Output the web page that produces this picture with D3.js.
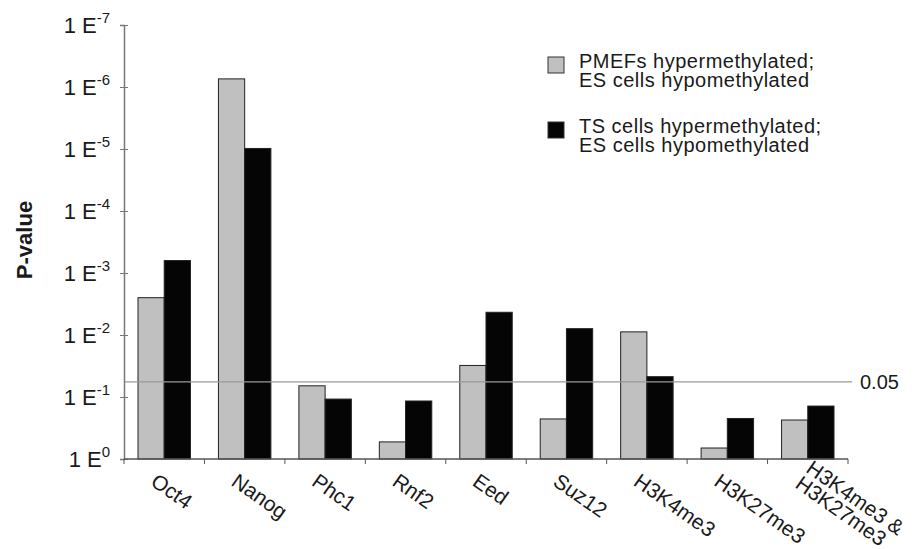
<!DOCTYPE html>
<html>
<head>
<meta charset="utf-8">
<script src="https://cdn.jsdelivr.net/npm/d3@7"></script>
<style>
  body { margin: 0; background: #fff; }
  text { font-family: "Liberation Sans", Arial, sans-serif; fill: #1a1a1a; }
</style>
</head>
<body>
<div id="chart"></div>
<script>
// categories along the x axis ('|' splits a label onto two lines)
var categories = ['Oct4', 'Nanog', 'Phc1', 'Rnf2', 'Eed', 'Suz12', 'H3K4me3', 'H3K27me3', 'H3K4me3 &|H3K27me3'];

// p-values
var pmefValues = [2.5e-3, 7.4e-7, 0.066, 0.53, 0.031, 0.226, 0.0089, 0.665, 0.235];
var tsValues = [6.3e-4, 9.8e-6, 0.108, 0.116, 0.0043, 0.0079, 0.047, 0.222, 0.14];

var seriesNames = ['PMEFs hypermethylated;|ES cells hypomethylated', 'TS cells hypermethylated;|ES cells hypomethylated'];
var seriesColors = ['#c0c0c0', '#050505'];

var yTickValues = [1, 1e-1, 1e-2, 1e-3, 1e-4, 1e-5, 1e-6, 1e-7];
var yTickExponents = ['0', '-1', '-2', '-3', '-4', '-5', '-6', '-7'];

// threshold line (drawn where it sits in the picture), and its label
var thresholdP = 0.057;
var thresholdLabel = '0.05';

var width = 913;
var height = 549;
var plotLeft = 124, plotRight = 848, plotTop = 25, plotBottom = 459;

var svg = d3.select('#chart')
  .append('svg')
  .attr('width', width)
  .attr('height', height);

var x0 = d3.scaleBand()
  .domain(categories)
  .range([plotLeft, plotRight])
  .padding(0);

var bw = x0.bandwidth();
var x1 = d3.scaleBand()
  .domain([0, 1])
  .range([bw * 0.174, bw * 0.826])
  .padding(0);

var y = d3.scaleLog()
  .domain([1, 1e-7])
  .range([plotBottom, plotTop]);

// bars
var rows = categories.map(function (c, i) {
  return { cat: c, vals: [pmefValues[i], tsValues[i]] };
});

var groups = svg.selectAll('g.grp')
  .data(rows)
  .enter()
  .append('g')
  .attr('class', 'grp')
  .attr('transform', function (d) { return 'translate(' + x0(d.cat) + ',0)'; });

groups.selectAll('rect')
  .data(function (d) { return d.vals.map(function (v, k) { return { k: k, v: v }; }); })
  .enter()
  .append('rect')
  .attr('x', function (d) { return x1(d.k); })
  .attr('y', function (d) { return y(d.v); })
  .attr('width', x1.bandwidth())
  .attr('height', function (d) { return y(1) - y(d.v); })
  .attr('fill', function (d) { return seriesColors[d.k]; })
  .attr('stroke', '#222')
  .attr('stroke-width', 1);

// threshold line
svg.append('line')
  .attr('x1', plotLeft)
  .attr('x2', 852)
  .attr('y1', y(thresholdP))
  .attr('y2', y(thresholdP))
  .attr('stroke', '#9a9a9a')
  .attr('stroke-width', 1.2);

svg.append('text')
  .attr('x', 860)
  .attr('y', y(thresholdP) + 7)
  .style('font-size', '20px')
  .text(thresholdLabel);

// y axis
var yAxis = svg.append('g')
  .attr('transform', 'translate(' + plotLeft + ',0)')
  .call(d3.axisLeft(y).tickValues(yTickValues).tickSize(4).tickFormat(''));

yAxis.select('.domain').attr('stroke', '#777').attr('stroke-width', 1.5);
yAxis.selectAll('.tick line').attr('stroke', '#777').attr('x2', 4).attr('x1', -4);

yAxis.selectAll('.tick')
  .append('text')
  .attr('x', -14)
  .attr('y', 7.5)
  .attr('text-anchor', 'end')
  .attr('fill', '#1a1a1a')
  .style('font-size', '22px')
  .each(function (d) {
    var t = d3.select(this);
    t.append('tspan').text('1 E');
    t.append('tspan')
      .attr('dy', -10)
      .style('font-size', '15px')
      .text(yTickExponents[yTickValues.indexOf(d)]);
  });

// x axis
var xAxis = svg.append('g')
  .attr('transform', 'translate(0,' + plotBottom + ')');

xAxis.append('line')
  .attr('x1', plotLeft)
  .attr('x2', plotRight)
  .attr('stroke', '#555')
  .attr('stroke-width', 1.5);

xAxis.selectAll('line.tk')
  .data(categories.map(function (c) { return x0(c); }).concat([plotRight]))
  .enter()
  .append('line')
  .attr('class', 'tk')
  .attr('x1', function (d) { return d; })
  .attr('x2', function (d) { return d; })
  .attr('y1', 0)
  .attr('y2', 5)
  .attr('stroke', '#555');

var labels = svg.selectAll('g.xlab')
  .data(categories)
  .enter()
  .append('g')
  .attr('class', 'xlab')
  .attr('transform', function (d) {
    return 'translate(' + (x0(d) + bw / 2 - 6) + ',472) rotate(35)';
  });

labels.each(function (d) {
  var lines = d.split('|');
  var n = lines.length;
  var g = d3.select(this);
  lines.forEach(function (ln, i) {
    g.append('text')
      .attr('x', n > 1 ? 2 : 0)
      .attr('y', (i - (n - 1) / 2) * 19 - (n > 1 ? 8 : 0))
      .attr('dy', '0.72em')
      .style('font-size', '21px')
      .text(ln);
  });
});

// y title
svg.append('text')
  .attr('transform', 'translate(32,240) rotate(-90)')
  .attr('text-anchor', 'middle')
  .style('font-size', '22px')
  .style('font-weight', 'bold')
  .text('P-value');

// legend
var legendTop = [57, 122];
var legend = svg.selectAll('g.leg')
  .data(seriesNames)
  .enter()
  .append('g')
  .attr('class', 'leg')
  .attr('transform', function (d, i) { return 'translate(548,' + legendTop[i] + ')'; });

legend.append('rect')
  .attr('width', 16)
  .attr('height', 16)
  .attr('fill', function (d, i) { return seriesColors[i]; })
  .attr('stroke', '#333');

legend.append('text')
  .attr('y', 11)
  .style('font-size', '20px')
  .style('letter-spacing', '0.5px')
  .each(function (d) {
    var t = d3.select(this);
    d.split('|').forEach(function (ln, i) {
      t.append('tspan')
        .attr('x', 31)
        .attr('dy', i === 0 ? 0 : 19)
        .text(ln);
    });
  });
</script>
</body>
</html>
